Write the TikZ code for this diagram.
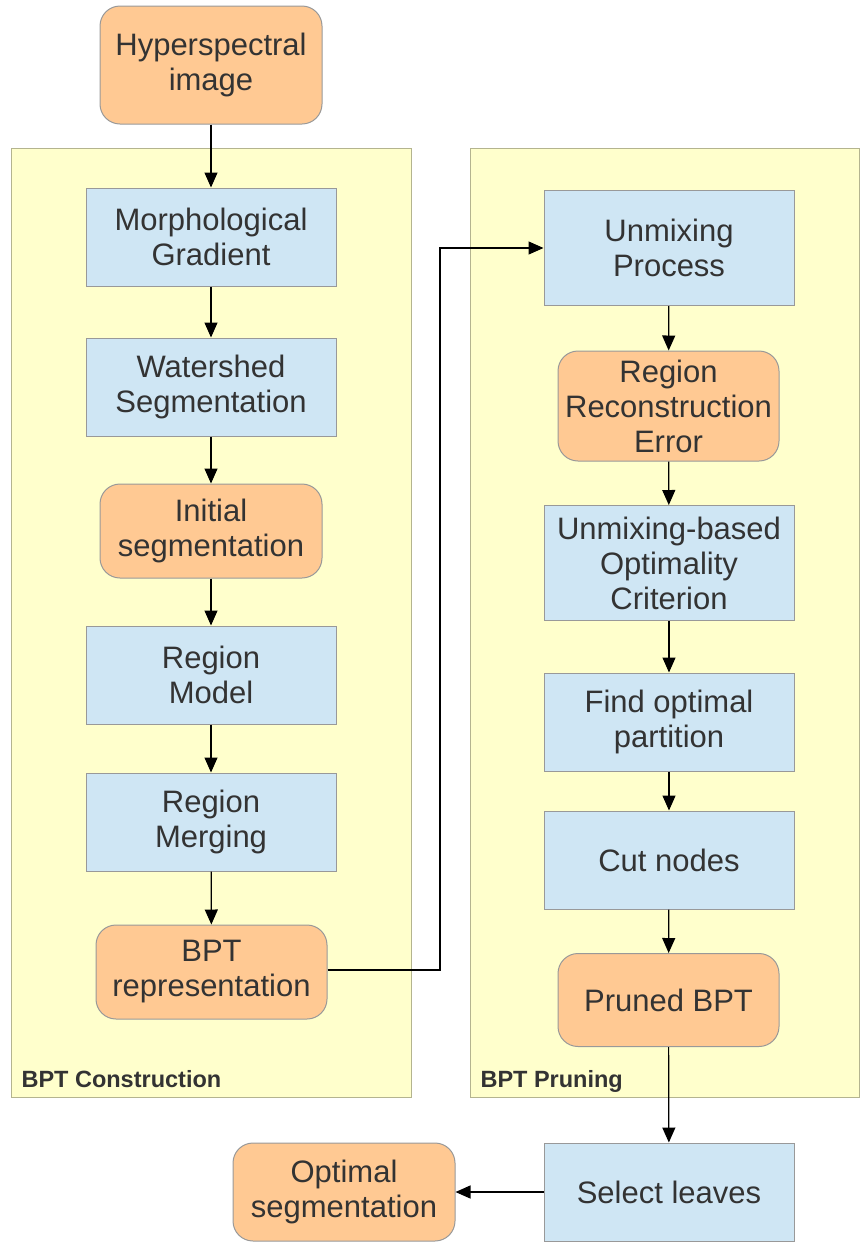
\documentclass[tikz,border=0pt]{standalone}
\usepackage{fontspec}
\setmainfont{Liberation Sans}
\usetikzlibrary{arrows.meta,positioning}
\definecolor{dataorange}{HTML}{FFC993}
\definecolor{procblue}{HTML}{CFE6F4}
\definecolor{panelyellow}{HTML}{FFFFCC}
\definecolor{panelrim}{HTML}{B4B48F}
\definecolor{textgrey}{HTML}{333333}
\tikzset{
boxbase/.style={draw=black!40, line width=1pt, text=textgrey, align=center, inner sep=0pt},
data/.style={boxbase, fill=dataorange, rounded corners=20pt, minimum width=222pt},
proc/.style={boxbase, fill=procblue, minimum width=250pt, minimum height=98pt},
panel/.style={draw=panelrim, line width=1pt, fill=panelyellow, inner sep=0pt},
panel label/.style={text=textgrey, font=\bfseries\fontsize{23.5}{27}\selectfont, anchor=base west},
arr/.style={-{Triangle[length=15pt,width=13pt]}, line width=1.2pt},
}
\tikzstyle{every node}=[font=\fontsize{31}{35}\selectfont]

\begin{document}
\begin{tikzpicture}[x=1pt,y=-1pt]
        \useasboundingbox (0,0) rectangle (860,1243);

        % the two stages
        \node[panel, minimum width=400pt, minimum height=949pt] (constr) at (211,622.5) {};
        \node[panel, minimum width=389pt, minimum height=949pt] (prune) at (664.5,622.5) {};
        \node[panel label] (constrlabel) at (18,1087) {BPT Construction};
        \node[panel label] (prunelabel) at (477,1087) {BPT Pruning};

        % construction
        \node[data, minimum height=118pt] (hsi) at (211,65) {Hyperspectral\\image};
        \node[proc] (morph) at (211,237) {Morphological\\Gradient};
        \node[proc] (water) at (211,387) {Watershed\\Segmentation};
        \node[data, minimum height=94pt] (initseg) at (211,531) {Initial\\segmentation};
        \node[proc] (model) at (211,675) {Region\\Model};
        \node[proc] (merge) at (211,822) {Region\\Merging};
        \node[data, minimum width=231pt, minimum height=94pt] (bptrep) at (211.5,972) {BPT\\representation};

        % pruning
        \node[proc, minimum height=115pt] (unmix) at (669,248) {Unmixing\\Process};
        \node[data, minimum width=221pt, minimum height=110pt] (recerr) at (668.5,406) {Region\\Reconstruction\\Error};
        \node[proc, minimum height=115pt] (crit) at (669,563) {Unmixing-based\\Optimality\\Criterion};
        \node[proc] (findpart) at (669,722) {Find optimal\\partition};
        \node[proc] (cut) at (669,860) {Cut nodes};
        \node[data, minimum width=221pt, minimum height=93pt] (pruned) at (668.5,1000) {Pruned BPT};
        \node[proc] (leaves) at (669,1192) {Select leaves};
        \node[data, minimum height=98pt] (optseg) at (344,1192) {Optimal\\segmentation};

        \coordinate (bend) at (440,970);

        \draw[arr] (hsi) -- (morph);
        \draw[arr] (morph) -- (water);
        \draw[arr] (water) -- (initseg);
        \draw[arr] (initseg) -- (model);
        \draw[arr] (model) -- (merge);
        \draw[arr] (merge) -- (bptrep);
        \draw[arr] (bptrep.east |- bend) -- (bend) |- (unmix.west);
        \draw[arr] (unmix) -- (recerr);
        \draw[arr] (recerr) -- (crit);
        \draw[arr] (crit) -- (findpart);
        \draw[arr] (findpart) -- (cut);
        \draw[arr] (cut) -- (pruned);
        \draw[arr] (pruned) -- (leaves);
        \draw[arr] (leaves) -- (optseg);
    \end{tikzpicture}
\end{document}
